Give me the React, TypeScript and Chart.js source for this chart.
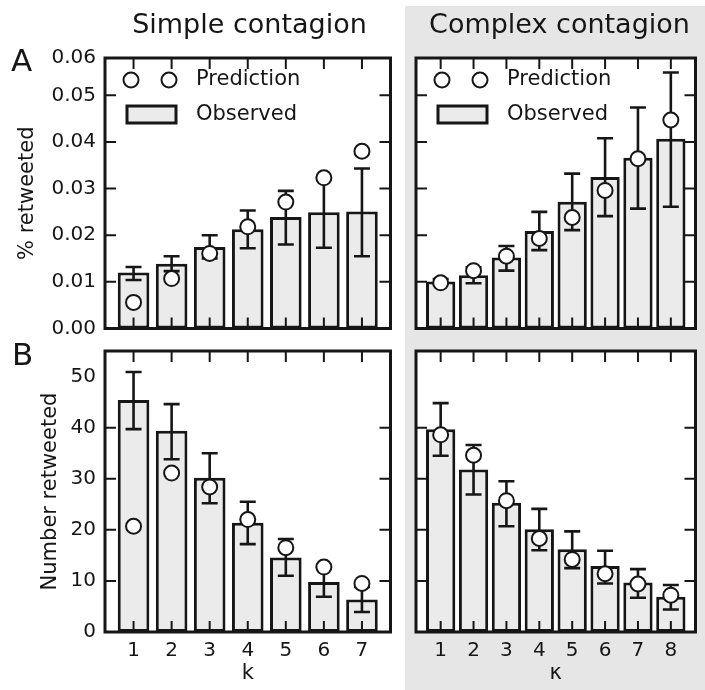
import React, { useEffect, useRef } from "react";
import { Chart, registerables } from "chart.js";

Chart.register(...registerables);
Chart.defaults.font.family = '"DejaVu Sans", sans-serif';
Chart.defaults.color = "#1a1a1a";

// ---------- data ----------
const kSimple = [1, 2, 3, 4, 5, 6, 7];
const kComplex = [1, 2, 3, 4, 5, 6, 7, 8];

const simpleRateObs = [0.012, 0.0139, 0.0175, 0.0213, 0.0239, 0.0249, 0.0251];
const simpleRateLow = [0.0104, 0.0123, 0.015, 0.0172, 0.018, 0.0173, 0.0155];
const simpleRateHigh = [0.0132, 0.0155, 0.02, 0.0253, 0.0295, 0.0325, 0.0343];
const simpleRatePred = [0.0056, 0.0107, 0.0161, 0.0218, 0.0271, 0.0323, 0.038];

const complexRateObs = [0.0101, 0.0114, 0.0152, 0.0209, 0.0272, 0.0325, 0.0366, 0.0407];
const complexRateLow = [0.0096, 0.0097, 0.0124, 0.0168, 0.0211, 0.0241, 0.0257, 0.0261];
const complexRateHigh = [0.0106, 0.0131, 0.0177, 0.025, 0.0332, 0.0408, 0.0474, 0.0549];
const complexRatePred = [0.0098, 0.0124, 0.0155, 0.0193, 0.0238, 0.0296, 0.0364, 0.0447];

const simpleNumObs = [45.4, 39.4, 30.2, 21.4, 14.6, 9.8, 6.35];
const simpleNumLow = [39.7, 33.8, 25.2, 17.2, 11.0, 6.9, 3.9];
const simpleNumHigh = [50.9, 44.6, 35.0, 25.5, 18.2, 12.7, 8.8];
const simpleNumPred = [20.7, 31.1, 28.4, 22.0, 16.5, 12.7, 9.5];

const complexNumObs = [39.7, 31.8, 25.3, 20.1, 16.2, 12.9, 9.7, 6.9];
const complexNumLow = [34.5, 26.9, 20.7, 16.0, 12.5, 9.5, 6.7, 4.4];
const complexNumHigh = [44.8, 36.6, 29.5, 24.1, 19.7, 15.9, 12.3, 9.2];
const complexNumPred = [38.6, 34.6, 25.7, 18.3, 14.2, 11.4, 9.4, 7.2];

const rateMax = 0.058;
const rateTicks = [0, 0.01, 0.02, 0.03, 0.04, 0.05, rateMax];
const rateTickLabels = ["0.00", "0.01", "0.02", "0.03", "0.04", "0.05", "0.06"];
const numMax = 55;
const numTicks = [0, 10, 20, 30, 40, 50];
const numTickLabels = ["0", "10", "20", "30", "40", "50"];

const INK = "#161616";
const BAR_FILL = "#ebebeb";
const BG_GRAY = "#e6e6e6";
const FONT = '"DejaVu Sans", sans-serif';

type PanelOpts = {
  cats: number[];
  obs: number[];
  low: number[];
  high: number[];
  pred: number[];
  yMax: number;
  yTicks: number[];
  yTickLabels: string[];
  yTitle?: string;
  yTitlePad?: number;
  xTitle?: string;
  barPct: number;
  padding: { left: number; right: number; top: number; bottom: number };
  legend: boolean;
};

function makeConfig(o: PanelOpts): any {
  const showY = !!o.yTitle;
  const showX = !!o.xTitle;

  const panelPlugin = {
    id: "panelDeco",
    beforeDraw(chart: any) {
      const { ctx, chartArea: a } = chart;
      ctx.save();
      ctx.fillStyle = "#ffffff";
      ctx.fillRect(a.left, a.top, a.right - a.left, a.bottom - a.top);
      ctx.restore();
    },
    afterDatasetDraw(chart: any, args: any) {
      if (args.index !== 0) return;
      const { ctx } = chart;
      const x = chart.scales.x;
      const y = chart.scales.y;
      ctx.save();
      ctx.strokeStyle = INK;
      ctx.lineWidth = 2.6;
      o.cats.forEach((c, i) => {
        const px = x.getPixelForValue(c);
        const yl = y.getPixelForValue(o.low[i]);
        const yh = y.getPixelForValue(o.high[i]);
        ctx.beginPath();
        ctx.moveTo(px, yl);
        ctx.lineTo(px, yh);
        ctx.moveTo(px - 8, yl);
        ctx.lineTo(px + 8, yl);
        ctx.moveTo(px - 8, yh);
        ctx.lineTo(px + 8, yh);
        ctx.stroke();
      });
      ctx.restore();
    },
    afterDraw(chart: any) {
      const { ctx, chartArea: a } = chart;
      const x = chart.scales.x;
      const y = chart.scales.y;
      ctx.save();
      ctx.strokeStyle = INK;
      ctx.lineWidth = 2;
      ctx.beginPath();
      o.yTicks.slice(1, -1).forEach((v) => {
        const py = y.getPixelForValue(v);
        ctx.moveTo(a.left, py);
        ctx.lineTo(a.left + 11, py);
        ctx.moveTo(a.right, py);
        ctx.lineTo(a.right - 11, py);
      });
      o.cats.forEach((c) => {
        const px = x.getPixelForValue(c);
        ctx.moveTo(px, a.top);
        ctx.lineTo(px, a.top + 11);
        ctx.moveTo(px, a.bottom);
        ctx.lineTo(px, a.bottom - 11);
      });
      ctx.stroke();
      ctx.lineWidth = 3;
      ctx.strokeRect(a.left, a.top, a.right - a.left, a.bottom - a.top);

      if (o.legend) {
        const cy1 = a.top + 22;
        const cy2 = a.top + 57;
        ctx.lineWidth = 2;
        [a.left + 26, a.left + 64].forEach((cx) => {
          ctx.beginPath();
          ctx.arc(cx, cy1, 7.5, 0, Math.PI * 2);
          ctx.fillStyle = "#fff";
          ctx.fill();
          ctx.stroke();
        });
        ctx.lineWidth = 3;
        ctx.fillStyle = BAR_FILL;
        ctx.fillRect(a.left + 22, a.top + 48, 49, 17);
        ctx.strokeRect(a.left + 22, a.top + 48, 49, 17);
        ctx.fillStyle = INK;
        ctx.font = `21px ${FONT}`;
        ctx.textBaseline = "middle";
        ctx.textAlign = "left";
        ctx.fillText("Prediction", a.left + 91, cy1);
        ctx.fillText("Observed", a.left + 91, cy2);
      }
      ctx.restore();
    },
  };

  return {
    type: "bar",
    data: {
      datasets: [
        {
          type: "bar",
          label: "Observed",
          data: o.cats.map((c, i) => ({ x: c, y: o.obs[i] })),
          backgroundColor: BAR_FILL,
          borderColor: INK,
          borderWidth: 3,
          borderSkipped: false,
          barPercentage: o.barPct,
          categoryPercentage: 1,
          order: 1,
        },
        {
          type: "line",
          label: "Prediction",
          data: o.cats.map((c, i) => ({ x: c, y: o.pred[i] })),
          showLine: false,
          pointRadius: 7.5,
          pointBackgroundColor: "#ffffff",
          pointBorderColor: INK,
          pointBorderWidth: 2,
          order: 0,
        },
      ],
    },
    options: {
      responsive: false,
      animation: false,
      devicePixelRatio: 1,
      layout: { padding: o.padding },
      plugins: { legend: { display: false }, tooltip: { enabled: false } },
      scales: {
        x: {
          type: "linear",
          min: 0.25,
          max: o.cats.length + 0.75,
          offset: false,
          display: showX,
          grid: { display: false, drawTicks: false },
          border: { display: false },
          afterBuildTicks: (s: any) => {
            s.ticks = o.cats.map((c) => ({ value: c }));
          },
          afterFit: (s: any) => {
            if (showX) s.height = 58;
          },
          ticks: {
            padding: 7,
            font: { size: 20 },
            color: INK,
            callback: (v: any) => String(v),
          },
          title: {
            display: showX,
            text: o.xTitle || "",
            font: { size: 21 },
            color: INK,
            padding: { top: 0, bottom: 4 },
          },
        },
        y: {
          type: "linear",
          min: 0,
          max: o.yMax,
          display: showY,
          grid: { display: false, drawTicks: false },
          border: { display: false },
          afterBuildTicks: (s: any) => {
            s.ticks = o.yTicks.map((v) => ({ value: v }));
          },
          afterFit: (s: any) => {
            if (showY) s.width = 105;
          },
          ticks: {
            padding: 9,
            font: { size: 20 },
            color: INK,
            callback: (_v: any, i: number) => o.yTickLabels[i],
          },
          title: {
            display: showY,
            text: o.yTitle || "",
            font: { size: 21 },
            color: INK,
            padding: { top: o.yTitlePad || 0, bottom: 0 },
          },
        },
      },
    },
    plugins: [panelPlugin],
  };
}

function Panel(props: { left: number; top: number; width: number; height: number; opts: PanelOpts }) {
  const ref = useRef<HTMLCanvasElement>(null);
  useEffect(() => {
    const chart = new Chart(ref.current as HTMLCanvasElement, makeConfig(props.opts));
    return () => chart.destroy();
  }, []);
  return (
    <div style={{ position: "absolute", left: props.left, top: props.top, width: props.width, height: props.height }}>
      <canvas
        ref={ref}
        width={props.width}
        height={props.height}
        style={{ width: props.width, height: props.height, display: "block" }}
      />
    </div>
  );
}

const textBase: React.CSSProperties = {
  position: "absolute",
  fontFamily: FONT,
  color: INK,
  lineHeight: 1,
  whiteSpace: "nowrap",
};

export default function App() {
  return (
    <div
      style={{
        position: "absolute",
        left: 0,
        top: 0,
        width: 705,
        height: 690,
        background: "#ffffff",
        overflow: "hidden",
      }}
    >
      <div style={{ position: "absolute", left: 405, top: 6, width: 300, height: 684, background: BG_GRAY }} />

      <Panel
        left={0}
        top={0}
        width={400}
        height={350}
        opts={{
          cats: kSimple,
          obs: simpleRateObs,
          low: simpleRateLow,
          high: simpleRateHigh,
          pred: simpleRatePred,
          yMax: rateMax,
          yTicks: rateTicks,
          yTickLabels: rateTickLabels,
          yTitle: "% retweeted",
          yTitlePad: 15,
          barPct: 0.83,
          padding: { left: 0, right: 6, top: 58, bottom: 21.5 },
          legend: true,
        }}
      />
      <Panel
        left={405}
        top={0}
        width={300}
        height={350}
        opts={{
          cats: kComplex,
          obs: complexRateObs,
          low: complexRateLow,
          high: complexRateHigh,
          pred: complexRatePred,
          yMax: rateMax,
          yTicks: rateTicks,
          yTickLabels: rateTickLabels,
          barPct: 0.89,
          padding: { left: 11, right: 2, top: 58, bottom: 21.5 },
          legend: true,
        }}
      />
      <Panel
        left={0}
        top={329}
        width={400}
        height={361}
        opts={{
          cats: kSimple,
          obs: simpleNumObs,
          low: simpleNumLow,
          high: simpleNumHigh,
          pred: simpleNumPred,
          yMax: numMax,
          yTicks: numTicks,
          yTickLabels: numTickLabels,
          yTitle: "Number retweeted",
          yTitlePad: 38,
          xTitle: "k",
          barPct: 0.83,
          padding: { left: 0, right: 6, top: 22, bottom: 0 },
          legend: false,
        }}
      />
      <Panel
        left={405}
        top={329}
        width={300}
        height={361}
        opts={{
          cats: kComplex,
          obs: complexNumObs,
          low: complexNumLow,
          high: complexNumHigh,
          pred: complexNumPred,
          yMax: numMax,
          yTicks: numTicks,
          yTickLabels: numTickLabels,
          xTitle: "κ",
          barPct: 0.89,
          padding: { left: 11, right: 2, top: 22, bottom: 0 },
          legend: false,
        }}
      />

      <div style={{ ...textBase, left: 105, width: 289, top: 10, fontSize: 27, textAlign: "center" }}>
        Simple contagion
      </div>
      <div style={{ ...textBase, left: 416, width: 287, top: 10, fontSize: 27, textAlign: "center" }}>
        Complex contagion
      </div>
      <div style={{ ...textBase, left: 11, top: 45, fontSize: 31 }}>A</div>
      <div style={{ ...textBase, left: 12, top: 339, fontSize: 31 }}>B</div>
    </div>
  );
}
